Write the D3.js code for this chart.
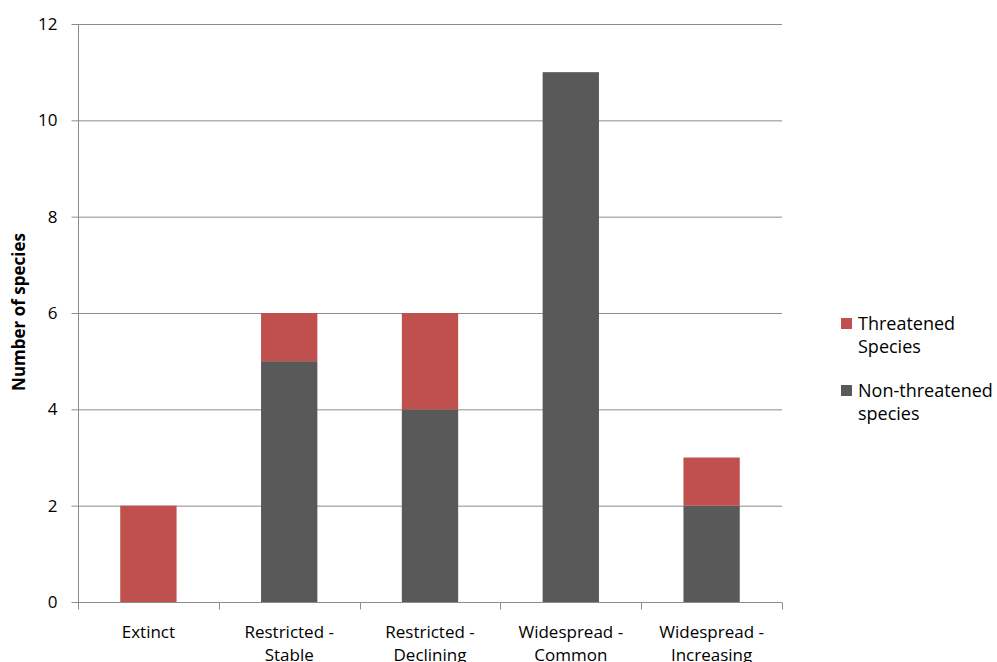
<!DOCTYPE html>
<html lang="en">
<head>
    <meta charset="UTF-8">
    <title>Number of species</title>
    <script src="https://cdn.jsdelivr.net/npm/d3@7"></script>
    <style>
        * { margin: 0; }
        body { background: #fff; }
        svg text { font-family: "Open Sans", "Noto Sans", sans-serif; fill: #000; }
    </style>
</head>
<body>
    <svg id="chart" width="997" height="662"></svg>
    <script>
        // data
        const categories = [["Extinct"], ["Restricted -", "Stable"], ["Restricted -", "Declining"], ["Widespread -", "Common"], ["Widespread -", "Increasing"]];
        const nonThreatened = [0, 5, 4, 11, 2];
        const threatened = [2, 1, 2, 0, 1];
        const yTicks = [0, 2, 4, 6, 8, 10, 12];
        const seriesNames = [["Threatened", "Species"], ["Non-threatened", "species"]];
        const colors = { threatened: "#C0504D", non: "#595959" };

        const svg = d3.select("#chart");
        const mLeft = 78, mRight = 782, mTop = 24, mBottom = 602;

        const x = d3.scaleBand().domain(d3.range(categories.length)).range([mLeft, mRight]).paddingInner(0).paddingOuter(0);
        const y = d3.scaleLinear().domain([0, 12]).range([mBottom, mTop]);
        const barW = x.bandwidth() * 0.4;

        // gridlines
        svg.append("g").selectAll("line").data(yTicks.filter(d => d > 0)).enter().append("line")
            .attr("x1", mLeft).attr("x2", mRight)
            .attr("y1", d => y(d) + 0.5).attr("y2", d => y(d) + 0.5)
            .attr("stroke", "#8c8c8c").attr("stroke-width", 1);

        // stacked bars
        const stack = d3.stack().keys(["non", "threatened"])(categories.map((c, i) => ({ non: nonThreatened[i], threatened: threatened[i] })));
        svg.append("g").selectAll("g").data(stack).enter().append("g")
            .attr("fill", d => colors[d.key])
            .selectAll("rect").data(d => d).enter().append("rect")
            .attr("x", (d, i) => x(i) + (x.bandwidth() - barW) / 2)
            .attr("width", barW)
            .attr("y", d => y(d[1]))
            .attr("height", d => y(d[0]) - y(d[1]));

        // y axis
        const yAxis = svg.append("g").attr("transform", `translate(${mLeft + 0.5},0)`)
            .call(d3.axisLeft(y).tickValues(yTicks).tickSize(7).tickPadding(14).tickFormat(d3.format("d")));
        yAxis.select(".domain").attr("stroke", "#8c8c8c").attr("d", `M0,${mTop}V${mBottom}`);
        yAxis.selectAll(".tick line").attr("stroke", "#8c8c8c");
        yAxis.selectAll(".tick text").attr("font-size", 17).style("font-family", "Open Sans");

        // x axis
        const xAxis = svg.append("g").attr("transform", `translate(0,${mBottom + 0.5})`);
        xAxis.append("line").attr("x1", mLeft).attr("x2", mRight).attr("stroke", "#8c8c8c");
        xAxis.selectAll("line.tk").data(d3.range(categories.length + 1)).enter().append("line")
            .attr("class", "tk")
            .attr("x1", i => Math.round(mLeft + i * x.bandwidth()) + 0.5)
            .attr("x2", i => Math.round(mLeft + i * x.bandwidth()) + 0.5)
            .attr("y1", 0).attr("y2", 7).attr("stroke", "#8c8c8c");
        const xl = xAxis.selectAll("text").data(categories).enter().append("text")
            .attr("text-anchor", "middle").attr("font-size", 17)
            .attr("transform", (d, i) => `translate(${x(i) + x.bandwidth() / 2},0)`);
        xl.selectAll("tspan").data(d => d).enter().append("tspan")
            .attr("x", 0).attr("y", (d, j) => 35 + j * 23).text(d => d);

        // y title
        svg.append("text").attr("transform", "translate(25,312) rotate(-90)")
            .attr("text-anchor", "middle").attr("font-size", 17).attr("font-weight", "bold")
            .text("Number of species");

        // legend
        const lg = svg.append("g").attr("transform", "translate(841,318)");
        const items = lg.selectAll("g").data(seriesNames).enter().append("g")
            .attr("transform", (d, i) => `translate(0,${i * 67})`);
        items.append("rect").attr("width", 11).attr("height", 11)
            .attr("fill", (d, i) => i === 0 ? colors.threatened : colors.non);
        items.append("text").attr("font-size", 18)
            .selectAll("tspan").data(d => d).enter().append("tspan")
            .attr("x", 17).attr("y", (d, j) => 12 + j * 23).text(d => d);
    </script>
</body>
</html>
